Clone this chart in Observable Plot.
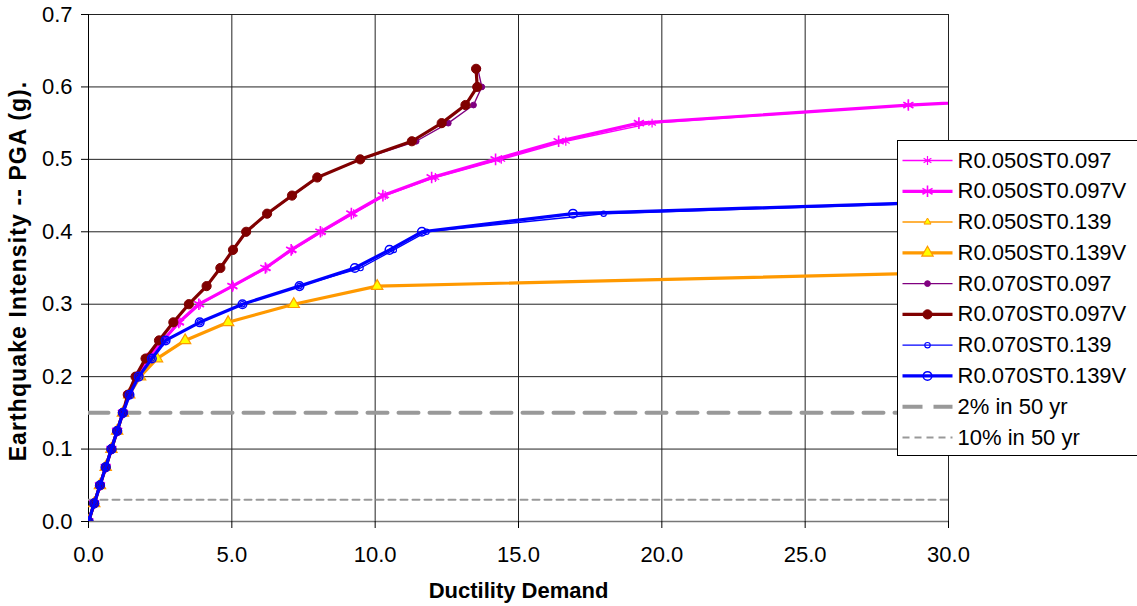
<!DOCTYPE html>
<html><head><meta charset="utf-8">
<script src="https://cdn.jsdelivr.net/npm/d3@7"></script>
<script src="https://cdn.jsdelivr.net/npm/@observablehq/plot@0.6"></script>
<style>
html,body{margin:0;padding:0;background:#fff;}
#wrap{position:relative;width:1137px;height:606px;font-family:"Liberation Sans",Arial,sans-serif;}
#legend{position:absolute;left:897px;top:140px;}
</style></head><body><div id="wrap"></div>
<script>
// ---- data ----
const pga = [0.000,0.025,0.050,0.075,0.100,0.125,0.150,0.175,0.200,0.225,0.250,0.275,0.300,0.325,0.350,0.375,0.400,0.425,0.450,0.475,0.500,0.525,0.550,0.575,0.600,0.625];

const seriesNames = ["R0.050ST0.097","R0.050ST0.097V","R0.050ST0.139","R0.050ST0.139V","R0.070ST0.097","R0.070ST0.097V","R0.070ST0.139","R0.070ST0.139V"];

const ductR050ST097  = [0,0.2,0.4,0.6,0.8,1.0,1.2,1.4,1.7,2.05,2.62,3.2,3.9,5.05,6.22,7.12,8.15,9.25,10.35,12.1,14.4,16.65,19.66,28.6,42];
const ductR050ST097V = [0,0.2,0.4,0.6,0.8,1.0,1.2,1.4,1.7,2.05,2.6,3.15,3.85,5.02,6.17,7.07,8.09,9.17,10.27,11.97,14.2,16.4,19.2,28.6,42];
const ductR050ST139  = [0,0.2,0.4,0.6,0.8,1.0,1.2,1.42,1.8,2.39,3.37,4.87,7.16,10.07,37];
const ductR050ST139V = [0,0.2,0.4,0.6,0.8,1.0,1.2,1.42,1.8,2.39,3.37,4.87,7.16,10.07,37];
const ductR070ST097  = [0,0.2,0.4,0.6,0.8,1.0,1.2,1.37,1.64,1.99,2.46,2.98,3.5,4.12,4.6,5.05,5.52,6.25,7.12,8.0,9.52,11.43,12.55,13.43,13.72,13.58];
const ductR070ST097V = [0,0.2,0.4,0.6,0.8,1.0,1.2,1.37,1.64,1.99,2.46,2.96,3.5,4.12,4.6,5.04,5.5,6.23,7.1,7.98,9.48,11.28,12.32,13.15,13.56,13.52];
const ductR070ST139  = [0,0.2,0.4,0.6,0.8,1.0,1.2,1.43,1.75,2.21,2.69,3.88,5.37,7.36,9.49,10.65,11.79,17.97,38];
const ductR070ST139V = [0,0.2,0.4,0.6,0.8,1.0,1.2,1.43,1.75,2.21,2.69,3.88,5.37,7.36,9.29,10.5,11.63,16.9,37];

const hazardNames = ["2% in 50 yr","10% in 50 yr"];
const hazardPGA = [0.15, 0.03];
const hazardX = [0, 30];

const xTicks = [0,5,10,15,20,25,30];
const yTicks = [0,0.1,0.2,0.3,0.4,0.5,0.6,0.7];

const xTitle = "Ductility Demand";
const yTitle = "Earthquake Intensity -- PGA (g).";

// ---- styles ----
const styles = [
  {color:"#FF00FF", width:1.4, symbol:"asterisk", r:4.2, fill:"none", sw:1.2},
  {color:"#FF00FF", width:3.2, symbol:"asterisk", r:5.5, fill:"none", sw:1.6},
  {color:"#FF9900", width:1.4, symbol:"triangle", r:2.6, fill:"#FFFF00", sw:1},
  {color:"#FF9900", width:3.2, symbol:"triangle", r:4.2, fill:"#FFFF00", sw:1.2},
  {color:"#800080", width:1.4, symbol:"circle",   r:2.9, fill:"#800080", sw:1},
  {color:"#800000", width:3.2, symbol:"circle",   r:4.6, fill:"#800000", sw:1},
  {color:"#0000FF", width:1.4, symbol:"circle",   r:2.7, fill:"none", sw:1.1},
  {color:"#0000FF", width:3.2, symbol:"circle",   r:4.3, fill:"none", sw:1.5}
];
const hazardStyles = [
  {color:"#999999", width:4, dash:"20,11"},
  {color:"#999999", width:2, dash:"7,5"}
];

const ductArrays = [ductR050ST097,ductR050ST097V,ductR050ST139,ductR050ST139V,ductR070ST097,ductR070ST097V,ductR070ST139,ductR070ST139V];
const seriesData = ductArrays.map(a => a.map((d,i) => ({x:d, y:pga[i]})));

const marks = [];
// gridlines
marks.push(Plot.ruleY(yTicks, {stroke:"#222", strokeWidth:1}));
marks.push(Plot.ruleX(xTicks, {stroke:"#222", strokeWidth:1}));
marks.push(Plot.ruleY([0], {stroke:"#777", strokeWidth:1.6}));
marks.push(Plot.ruleX([0], {stroke:"#000", strokeWidth:1}));
// hazard levels
hazardPGA.forEach((v,i) => {
  const data = hazardX.map(x => ({x, y:v}));
  marks.push(Plot.line(data, {x:"x", y:"y", stroke:hazardStyles[i].color, strokeWidth:hazardStyles[i].width, strokeDasharray:hazardStyles[i].dash, clip:true}));
});
// series
seriesData.forEach((data,i) => {
  const s = styles[i];
  marks.push(Plot.line(data, {x:"x", y:"y", stroke:s.color, strokeWidth:s.width, clip:true, curve:"linear"}));
  marks.push(Plot.dot(data, {x:"x", y:"y", symbol:s.symbol, r:s.r, stroke:s.color, fill:s.fill, strokeWidth:s.sw, clip:true}));
});
// axes
marks.push(Plot.axisX(xTicks, {tickFormat:d3.format(".1f"), tickSize:7, tickPadding:18, fontSize:22, label:null, fill:"#000"}));
marks.push(Plot.axisY(yTicks, {tickFormat:d3.format(".1f"), tickSize:7, tickPadding:9, fontSize:22, label:null, fill:"#000"}));
marks.push(Plot.text([xTitle], {frameAnchor:"bottom", dy:69, text:d=>d, fontWeight:"bold", fontSize:22, textAnchor:"middle", lineAnchor:"middle", fill:"#000"}));
marks.push(Plot.text([yTitle], {frameAnchor:"left", dx:-70, dy:3, rotate:-90, text:d=>d, fontWeight:"bold", fontSize:23, textAnchor:"middle", lineAnchor:"middle", fill:"#000"}));

const chart = Plot.plot({
  width:1137, height:606,
  marginLeft:88, marginRight:189, marginTop:14, marginBottom:85,
  x:{domain:[0,30], axis:null},
  y:{domain:[0,0.7], axis:null},
  style:{fontFamily:"'Liberation Sans', Arial, sans-serif", fontSize:"22px", background:"#fff", color:"#000", overflow:"visible"},
  marks
});
const wrap = document.getElementById("wrap");
wrap.appendChild(chart);
d3.select(chart).selectAll("text").filter(function(){ return this.textContent === yTitle; })
  .style("letter-spacing", "1.1px");

// ---- legend ----
const rows = seriesNames.map((name,i) => ({name, i, ...styles[i], dash:null}))
  .concat(hazardNames.map((name,j) => ({name, i:8+j, color:hazardStyles[j].color, width:hazardStyles[j].width, dash:hazardStyles[j].dash, symbol:null})));
const lmarks = [Plot.frame({fill:"#fff", stroke:"#000", strokeWidth:1})];
rows.forEach(r => {
  lmarks.push(Plot.link([r], {x1:()=>5, x2:()=>55, y1:"i", y2:"i", stroke:r.color, strokeWidth:r.width, strokeDasharray:r.dash || undefined}));
  if (r.symbol) lmarks.push(Plot.dot([r], {x:()=>30, y:"i", symbol:r.symbol, r:r.r, stroke:r.color, fill:r.fill, strokeWidth:r.sw}));
});
lmarks.push(Plot.text(rows, {x:()=>60, y:"i", text:"name", textAnchor:"start", lineAnchor:"middle", fontSize:22, fill:"#000"}));
const legend = Plot.plot({
  width:240, height:315, margin:0,
  x:{domain:[0,240], range:[0,240], axis:null},
  y:{domain:[0,9], range:[20,297], axis:null},
  style:{fontFamily:"'Liberation Sans', Arial, sans-serif", fontSize:"22px", background:"#fff", overflow:"visible"},
  marks:lmarks
});
legend.id = "legend";
wrap.appendChild(legend);
</script></body></html>
